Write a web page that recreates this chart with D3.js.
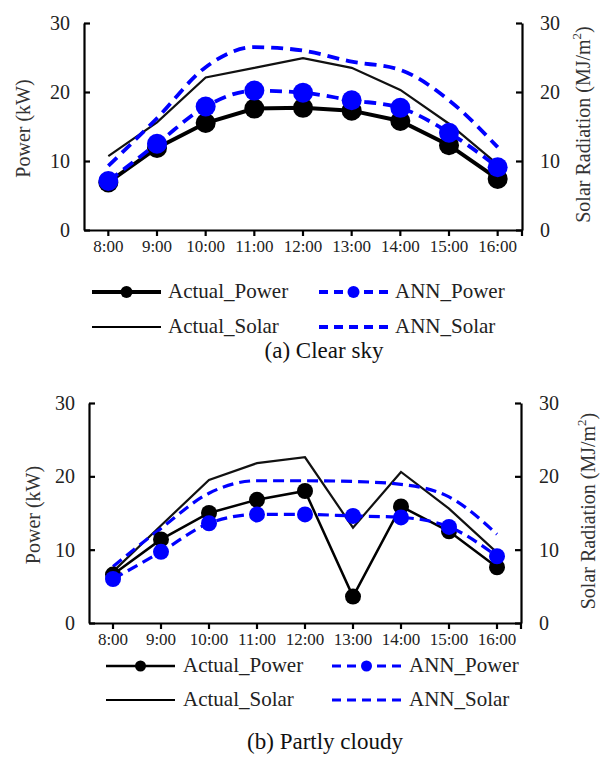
<!DOCTYPE html>
<html><head><meta charset="utf-8">
<script src="https://cdn.jsdelivr.net/npm/d3@7/dist/d3.min.js"></script>
<style>
html,body{margin:0;padding:0;background:#fff;}
svg text{font-family:"Liberation Serif","Times New Roman","DejaVu Serif",serif !important;}
</style></head>
<body>
<svg id="chart" width="601" height="757" style="display:block"></svg>
<script>
// ---------- data ----------
const hours = ["8:00","9:00","10:00","11:00","12:00","13:00","14:00","15:00","16:00"];
const yTicks = [0, 10, 20, 30];

// (a) Clear sky
const clearActualPower = [6.9, 11.9, 15.5, 17.6, 17.7, 17.3, 15.8, 12.3, 7.4];
const clearAnnPower    = [7.1, 12.5, 17.9, 20.2, 19.9, 18.8, 17.7, 14.1, 9.1];
const clearActualSolar = [10.7, 15.6, 22.1, 23.5, 24.9, 23.5, 20.3, 15.4, 9.5];
const clearAnnSolar    = [9.3, 16.2, 23.6, 26.5, 26.0, 24.4, 23.2, 18.8, 12.0];

// (b) Partly cloudy
const cloudyActualPower = [6.6, 11.4, 15.0, 16.8, 18.0, 3.6, 15.9, 12.5, 7.6];
const cloudyAnnPower    = [6.0, 9.7, 13.6, 14.8, 14.8, 14.6, 14.4, 13.1, 9.1];
const cloudyActualSolar = [7.0, 13.3, 19.5, 21.8, 22.6, 13.0, 20.6, 15.6, 9.6];
const cloudyAnnSolar    = [7.7, 12.9, 17.7, 19.4, 19.4, 19.3, 18.9, 17.2, 12.1];

const legendLabels = ["Actual_Power", "ANN_Power", "Actual_Solar", "ANN_Solar"];
const captions = ["(a) Clear sky", "(b) Partly cloudy"];

const BLUE = "#0000ff";
const FONT = "'Liberation Serif','Times New Roman','DejaVu Serif',serif";
const svg = d3.select("#chart");

function drawPanel(cfg) {
  const g = svg.append("g");
  const x = d3.scaleBand().domain(hours).range([cfg.left, cfg.right]);
  const yL = d3.scaleLinear().domain([0, 30]).range([cfg.bottom, cfg.top]);
  const yR = d3.scaleLinear().domain([0, 30]).range([cfg.bottom, cfg.top]);
  const cx = d => x(d) + x.bandwidth() / 2;

  // axes
  const axL = g.append("g").attr("transform", `translate(${cfg.left},0)`)
    .call(d3.axisLeft(yL).tickValues(yTicks).tickSizeInner(-6).tickSizeOuter(0).tickPadding(14));
  const axR = g.append("g").attr("transform", `translate(${cfg.right},0)`)
    .call(d3.axisRight(yR).tickValues(yTicks).tickSizeInner(-6).tickSizeOuter(0).tickPadding(18));
  const axB = g.append("g").attr("transform", `translate(0,${cfg.bottom})`)
    .call(d3.axisBottom(x).tickSizeInner(6).tickSizeOuter(0).tickPadding(4));
  [axL, axR, axB].forEach(a => a.attr("font-family", FONT));
  [axL, axR].forEach(a => {
    a.selectAll("text").attr("font-size", 20).attr("fill", "#222");
  });
  axB.selectAll("text").attr("font-size", 17).attr("fill", "#222");
  [axL, axR, axB].forEach(a => {
    a.selectAll("path,line").attr("stroke", "#000").attr("stroke-width", 2.2);
  });
  axB.append("line").attr("x1", cfg.right).attr("x2", cfg.right).attr("y1", 0).attr("y2", 6)
    .attr("stroke", "#000").attr("stroke-width", 2.2);

  // axis titles
  g.append("text")
    .attr("transform", `translate(${cfg.ylabX},${(cfg.top + cfg.bottom) / 2 + 2}) rotate(-90)`)
    .attr("text-anchor", "middle").attr("dominant-baseline", "middle")
    .attr("font-size", 20).attr("fill", "#333").text("Power (kW)");
  const rt = g.append("text")
    .attr("transform", `translate(${cfg.yrlabX},${(cfg.top + cfg.bottom) / 2 - 2}) rotate(-90)`)
    .attr("text-anchor", "middle").attr("dominant-baseline", "middle")
    .attr("font-size", 20).attr("fill", "#333");
  rt.append("tspan").text("Solar Radiation (MJ/m");
  rt.append("tspan").attr("font-size", 13).attr("dy", -7).text("2");
  rt.append("tspan").attr("dy", 7).text(")");

  const lineStraight = d3.line().x((d, i) => cx(hours[i])).y(d => yL(d));
  const lineSmooth = d3.line().x((d, i) => cx(hours[i])).y(d => yL(d)).curve(d3.curveMonotoneX);
  const lineSolar = d3.line().x((d, i) => cx(hours[i])).y(d => yR(d));
  const lineSolarSmooth = d3.line().x((d, i) => cx(hours[i])).y(d => yR(d)).curve(d3.curveMonotoneX);

  g.append("path").attr("d", lineSolar(cfg.actualSolar)).attr("fill", "none")
    .attr("stroke", "#111").attr("stroke-width", cfg.solarW);
  g.append("path").attr("d", lineSolarSmooth(cfg.annSolar)).attr("fill", "none")
    .attr("stroke", BLUE).attr("stroke-width", cfg.dashW).attr("stroke-dasharray", cfg.dash);
  g.append("path").attr("d", lineStraight(cfg.actualPower)).attr("fill", "none")
    .attr("stroke", "#000").attr("stroke-width", cfg.powerW);
  g.selectAll(null).data(cfg.actualPower).enter().append("circle")
    .attr("cx", (d, i) => cx(hours[i])).attr("cy", d => yL(d)).attr("r", cfg.r).attr("fill", "#000");
  g.append("path").attr("d", lineSmooth(cfg.annPower)).attr("fill", "none")
    .attr("stroke", BLUE).attr("stroke-width", cfg.dashW).attr("stroke-dasharray", cfg.dash);
  g.selectAll(null).data(cfg.annPower).enter().append("circle")
    .attr("cx", (d, i) => cx(hours[i])).attr("cy", d => yL(d)).attr("r", cfg.r).attr("fill", BLUE);

  // legend
  const L = cfg.legend;
  const items = [
    {x: L.x1, y: L.y1, color: "#000", w: cfg.powerLegW, dash: null, marker: true},
    {x: L.x2, y: L.y1, color: BLUE, w: cfg.dashW, dash: cfg.legDash, marker: true},
    {x: L.x1, y: L.y2, color: "#000", w: cfg.solarW, dash: null, marker: false},
    {x: L.x2, y: L.y2, color: BLUE, w: cfg.dashW, dash: cfg.legDash, marker: false}
  ];
  items.forEach((it, i) => {
    const lg = g.append("g");
    lg.append("line").attr("x1", it.x).attr("x2", it.x + L.len).attr("y1", it.y).attr("y2", it.y)
      .attr("stroke", it.color).attr("stroke-width", it.w)
      .attr("stroke-dasharray", it.dash);
    if (it.marker) lg.append("circle").attr("cx", it.x + L.len / 2).attr("cy", it.y).attr("r", L.mr).attr("fill", it.color);
    lg.append("text").attr("x", it.x + L.len + L.gap).attr("y", it.y + 1)
      .attr("dominant-baseline", "middle").attr("font-size", 21).attr("fill", "#222")
      .text(legendLabels[i]);
  });
  g.append("text").attr("x", cfg.capX).attr("y", cfg.capY).attr("text-anchor", "middle")
    .attr("dominant-baseline", "middle").attr("font-size", 23).attr("fill", "#111").text(cfg.caption);
}

drawPanel({
  left: 84, right: 522, top: 23, bottom: 230,
  ylabX: 25, yrlabX: 585,
  actualPower: clearActualPower, annPower: clearAnnPower,
  actualSolar: clearActualSolar, annSolar: clearAnnSolar,
  powerW: 4, powerLegW: 4, solarW: 2.2, dashW: 3.8, dash: "12,7", legDash: "9,6", r: 10,
  legend: {x1: 92, x2: 319, y1: 292, y2: 327, len: 69, gap: 7, mr: 6},
  capX: 324, capY: 353, caption: captions[0]
});

drawPanel({
  left: 89, right: 521, top: 403, bottom: 623,
  ylabX: 35, yrlabX: 590,
  actualPower: cloudyActualPower, annPower: cloudyAnnPower,
  actualSolar: cloudyActualSolar, annSolar: cloudyAnnSolar,
  powerW: 2.5, powerLegW: 2.5, solarW: 2.2, dashW: 3.2, dash: "11,6", legDash: "9,6", r: 8,
  legend: {x1: 106, x2: 332, y1: 666, y2: 700, len: 69, gap: 8, mr: 5.5},
  capX: 325, capY: 744, caption: captions[1]
});
</script>
</body></html>
